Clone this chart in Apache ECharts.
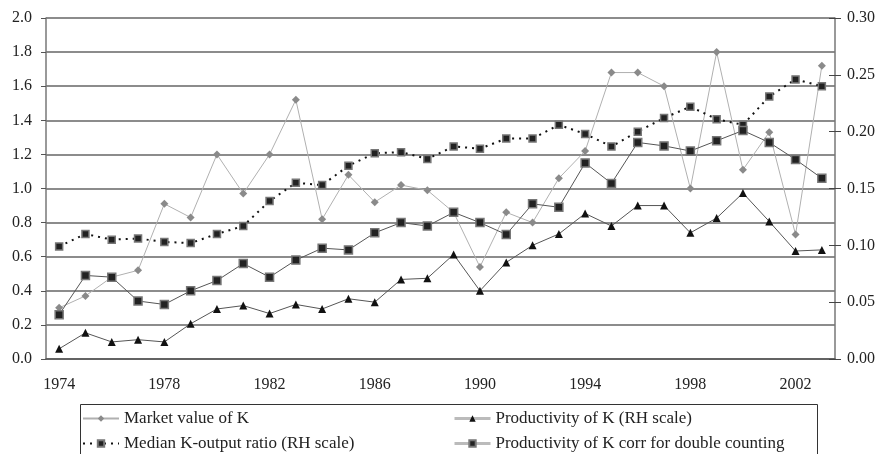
<!DOCTYPE html>
<html>
<head>
<meta charset="utf-8">
<script src="https://cdn.jsdelivr.net/npm/echarts@6/dist/echarts.min.js"></script>
<style>
html, body { margin: 0; padding: 0; background: #fff; }
#chart { width: 882px; height: 454px; }
</style>
</head>
<body>
<div id="chart"></div>
<script>
var years = [];
for (var y = 1974; y <= 2003; y++) years.push(String(y));

// left scale
var marketValue = [0.30, 0.37, 0.48, 0.52, 0.91, 0.83, 1.20, 0.97, 1.20, 1.52,
                   0.82, 1.08, 0.92, 1.02, 0.99, 0.86, 0.54, 0.86, 0.80, 1.06,
                   1.22, 1.68, 1.68, 1.60, 1.00, 1.80, 1.11, 1.33, 0.73, 1.72];
var prodCorr = [0.26, 0.49, 0.48, 0.34, 0.32, 0.40, 0.46, 0.56, 0.48, 0.58,
                0.65, 0.64, 0.74, 0.80, 0.78, 0.86, 0.80, 0.73, 0.91, 0.89,
                1.15, 1.03, 1.27, 1.25, 1.22, 1.28, 1.34, 1.27, 1.17, 1.06];
// right scale
var productivity = [0.009, 0.023, 0.015, 0.017, 0.015, 0.031, 0.044, 0.047, 0.040, 0.048,
                    0.044, 0.053, 0.050, 0.070, 0.071, 0.092, 0.060, 0.085, 0.100, 0.110,
                    0.128, 0.117, 0.135, 0.135, 0.111, 0.124, 0.146, 0.121, 0.095, 0.096];
var medianKY = [0.099, 0.110, 0.105, 0.106, 0.103, 0.102, 0.110, 0.117, 0.139, 0.155,
                0.153, 0.170, 0.181, 0.182, 0.176, 0.187, 0.185, 0.194, 0.194, 0.206,
                0.198, 0.187, 0.200, 0.212, 0.222, 0.211, 0.206, 0.231, 0.246, 0.240];

var font = 'Liberation Serif';
var legendText = { fontSize: 17, color: '#222', fontFamily: font };

// one legend per item so the 2x2 layout is exact
function legendItem(name, left, top, lineStyle) {
    var l = {
        orient: 'horizontal', left: left, top: top,
        itemWidth: 36, itemHeight: 8, itemGap: 0,
        textStyle: legendText, data: [name]
    };
    if (lineStyle) l.lineStyle = lineStyle;
    return l;
}

var chart = echarts.init(document.getElementById('chart'));
chart.setOption({
    animation: false,
    textStyle: { fontFamily: font, color: '#222' },
    grid: { left: 46, right: 47, top: 18, bottom: 95 },
    xAxis: {
        type: 'category',
        data: years,
        boundaryGap: true,
        axisLine: { lineStyle: { color: '#555', width: 1.5 } },
        axisTick: { interval: 0, length: 6, lineStyle: { color: '#555' } },
        axisLabel: { interval: 3, margin: 18, fontSize: 16, color: '#222', fontFamily: font }
    },
    yAxis: [
        {
            type: 'value', min: 0, max: 2, interval: 0.2,
            axisLine: { show: true, lineStyle: { color: '#777', width: 1.5 } },
            axisTick: { show: true, length: 5, lineStyle: { color: '#555' } },
            axisLabel: { margin: 14, fontSize: 16, color: '#222', fontFamily: font,
                formatter: function (v) { return v.toFixed(1); } },
            splitLine: { lineStyle: { color: '#666', width: 1.5 } }
        },
        {
            type: 'value', min: 0, max: 0.3, interval: 0.05, position: 'right',
            axisLine: { show: true, lineStyle: { color: '#777', width: 1.5 } },
            axisTick: { show: true, length: 6, lineStyle: { color: '#444' } },
            axisLabel: { margin: 12, fontSize: 16, color: '#222', fontFamily: font,
                formatter: function (v) { return v.toFixed(2); } },
            splitLine: { show: false }
        },
        {
            // inner half of the cross ticks on the right
            type: 'value', min: 0, max: 0.3, interval: 0.05, position: 'right',
            axisLine: { show: false },
            axisTick: { show: true, inside: true, length: 6, lineStyle: { color: '#444' } },
            axisLabel: { show: false },
            splitLine: { show: false }
        }
    ],
    legend: [
        legendItem('Market value of K', 77, 405),
        legendItem('Median K-output ratio (RH scale)', 77, 430),
        legendItem('Productivity of K (RH scale)', 448, 405, { color: '#bbb', width: 3 }),
        legendItem('Productivity of K corr for double counting', 448, 430, { color: '#bbb', width: 3 })
    ],
    graphic: [
        {
            type: 'rect', left: 78, top: 402,
            shape: { width: 737, height: 70 },
            style: { fill: 'none', stroke: '#333', lineWidth: 1 }
        }
    ],
    series: [
        {
            name: 'Market value of K', type: 'line', yAxisIndex: 0, data: marketValue,
            symbol: 'diamond', symbolSize: 8,
            lineStyle: { color: '#b0b0b0', width: 1 },
            itemStyle: { color: '#8a8a8a' }
        },
        {
            name: 'Productivity of K (RH scale)', type: 'line', yAxisIndex: 1, data: productivity,
            symbol: 'triangle', symbolSize: 8,
            lineStyle: { color: '#555', width: 1 },
            itemStyle: { color: '#111' }
        },
        {
            name: 'Median K-output ratio (RH scale)', type: 'line', yAxisIndex: 1, data: medianKY,
            symbol: 'rect', symbolSize: 7,
            lineStyle: { color: '#111', width: 2, type: [2, 5] },
            itemStyle: { color: '#222', borderColor: '#777', borderWidth: 1.5 }
        },
        {
            name: 'Productivity of K corr for double counting', type: 'line', yAxisIndex: 0, data: prodCorr,
            symbol: 'rect', symbolSize: 8,
            lineStyle: { color: '#555', width: 1 },
            itemStyle: { color: '#222', borderColor: '#777', borderWidth: 1.5 }
        }
    ]
});
</script>
</body>
</html>
